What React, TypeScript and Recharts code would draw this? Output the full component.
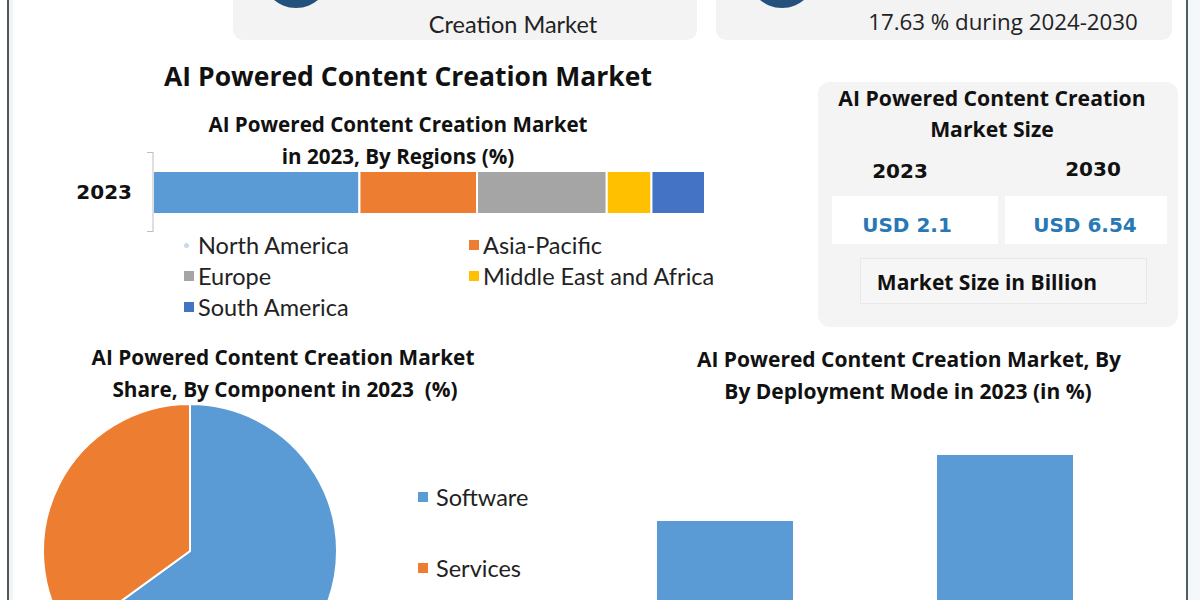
import React from "react";
import { BarChart, Bar, XAxis, YAxis, PieChart, Pie, Cell } from "recharts";

const regionKeys = ["North America", "Asia-Pacific", "Europe", "Middle East and Africa", "South America"];
const regionValues = [37.4, 21.3, 23.5, 8.1, 9.7];
const regionColors = ["#5B9BD5", "#ED7D31", "#A5A5A5", "#FFC000", "#4472C4"];
const regionYear = "2023";

const componentNames = ["Software", "Services"];
const componentValues = [65, 35];
const componentColors = ["#5B9BD5", "#ED7D31"];

const deploymentNames = ["On-Premise", "Cloud"];
const deploymentValues = [38, 62];

const sizeYears = ["2023", "2030"];
const sizeValues = ["USD 2.1", "USD 6.54"];

const regionRow: Record<string, any> = { year: regionYear };
regionKeys.forEach((k, i) => (regionRow[k] = regionValues[i]));
const regionData = [regionRow];
const componentData = componentNames.map((n, i) => ({ name: n, value: componentValues[i] }));
const deploymentData = deploymentNames.map((n, i) => ({ name: n, value: deploymentValues[i] }));

const LATO = "Lato, 'Open Sans', sans-serif";
const OPEN = "'Open Sans', 'Noto Sans', sans-serif";
const DEJA = "'DejaVu Sans', Verdana, sans-serif";

function T(props: {
  x: number; y: number; text: string; size: number; weight?: number; family?: string;
  color?: string; anchor?: "start" | "middle" | "end";
}) {
  const { x, y, text, size, weight = 400, family = LATO, color = "#111", anchor = "middle" } = props;
  const lh = Math.round(size * 1.3);
  const tx = anchor === "middle" ? "translateX(-50%)" : anchor === "end" ? "translateX(-100%)" : "none";
  return (
    <div
      style={{
        position: "absolute", left: x, top: y - lh / 2, lineHeight: lh + "px", fontSize: size,
        fontWeight: weight, fontFamily: family, color, whiteSpace: "pre", transform: tx,
      }}
    >
      {text}
    </div>
  );
}

function Box(props: { x: number; y: number; w: number; h: number; bg: string; r?: number; border?: string; shadow?: string }) {
  return (
    <div
      style={{
        position: "absolute", left: props.x, top: props.y, width: props.w, height: props.h,
        background: props.bg, borderRadius: props.r ?? 0, border: props.border,
        boxSizing: "border-box", boxShadow: props.shadow,
      }}
    />
  );
}

function Marker(props: { x: number; y: number; color: string; size?: number }) {
  const s = props.size ?? 10;
  return <div style={{ position: "absolute", left: props.x, top: props.y - s / 2, width: s, height: s, background: props.color }} />;
}

export default function App() {
  return (
    <div style={{ position: "absolute", left: 0, top: 0, width: 1200, height: 600, overflow: "hidden", background: "#fff" }}>
      {/* frame lines */}
      <div style={{ position: "absolute", left: 7, top: 0, width: 2, height: 600, background: "#555" }} />
      <div style={{ position: "absolute", left: 9, top: 0, width: 4, height: 600, background: "#EEF5F8" }} />
      <div style={{ position: "absolute", left: 1186, top: 0, width: 2, height: 600, background: "#4D5E66" }} />
      <div style={{ position: "absolute", left: 1188, top: 0, width: 12, height: 600, background: "#F4F8FA" }} />

      {/* top cards */}
      <Box x={233} y={-30} w={464} h={70} bg="#F3F3F3" r={10} />
      <Box x={716} y={-30} w={456} h={70} bg="#F3F3F3" r={10} />
      <div style={{ position: "absolute", left: 262, top: -60, width: 68, height: 68, borderRadius: "50%", background: "#23507C" }} />
      <div style={{ position: "absolute", left: 748, top: -60, width: 68, height: 68, borderRadius: "50%", background: "#23507C" }} />
      <T x={513} y={24} text="Creation Market" size={23.5} family={LATO} color="#222" />
      <T x={1003} y={21} text="17.63 % during 2024-2030" size={22.3} family={OPEN} color="#222" />

      {/* main title */}
      <T x={408} y={76} text="AI Powered Content Creation Market" size={26.5} weight={700} family={OPEN} />
      <T x={398} y={124} text="AI Powered Content Creation Market" size={20.6} weight={700} family={OPEN} />
      <T x={398} y={156} text="in 2023, By Regions (%)" size={20.6} weight={700} family={OPEN} />

      {/* stacked region bar */}
      <div style={{ position: "absolute", left: 147, top: 152, width: 6, height: 1, background: "#BFBFBF" }} />
      <div style={{ position: "absolute", left: 147, top: 231, width: 6, height: 1, background: "#BFBFBF" }} />
      <div style={{ position: "absolute", left: 0, top: 140 }}>
        <BarChart width={720} height={100} data={regionData} layout="vertical" margin={{ top: 12, right: 15, left: 0, bottom: 8 }} barCategoryGap={0}>
          <XAxis type="number" domain={[0, 100]} hide />
          <YAxis
            type="category" dataKey="year" width={153} axisLine={{ stroke: "#BFBFBF" }} tickLine={false}
            tickSize={6} tickMargin={15}
            tick={{ fontFamily: DEJA, fontWeight: 700, fontSize: 20, fill: "#111" }}
          />
          {regionKeys.map((k, i) => (
            <Bar key={k} dataKey={k} stackId="a" fill={regionColors[i]} stroke="#fff" strokeWidth={2} barSize={43} isAnimationActive={false} />
          ))}
        </BarChart>
      </div>

      {/* region legend */}
      <div style={{ position: "absolute", left: 184, top: 243, width: 5, height: 5, borderRadius: "50%", background: "#C9DAEE" }} />
      <T x={198} y={245} text={regionKeys[0]} size={23.5} anchor="start" color="#222" />
      <Marker x={469} y={245} color={regionColors[1]} />
      <T x={483} y={245} text={regionKeys[1]} size={23.5} anchor="start" color="#222" />
      <Marker x={184} y={276} color={regionColors[2]} />
      <T x={198} y={276} text={regionKeys[2]} size={23.5} anchor="start" color="#222" />
      <Marker x={469} y={276} color={regionColors[3]} />
      <T x={483} y={276} text={regionKeys[3]} size={23.5} anchor="start" color="#222" />
      <Marker x={184} y={307} color={regionColors[4]} />
      <T x={198} y={307} text={regionKeys[4]} size={23.5} anchor="start" color="#222" />

      {/* market size panel */}
      <Box x={818} y={82} w={360} h={245} bg="#F4F4F4" r={12} />
      <T x={992} y={98} text="AI Powered Content Creation" size={21.2} weight={700} family={OPEN} />
      <T x={992} y={129} text="Market Size" size={21.2} weight={700} family={OPEN} />
      <T x={900} y={171} text={sizeYears[0]} size={20} weight={700} family={DEJA} />
      <T x={1093} y={169} text={sizeYears[1]} size={20} weight={700} family={DEJA} />
      <Box x={832} y={196} w={166} h={48} bg="#FFFFFF" />
      <Box x={1005} y={196} w={162} h={48} bg="#FFFFFF" />
      <T x={907} y={225} text={sizeValues[0]} size={20} weight={700} family={DEJA} color="#2878B5" />
      <T x={1085} y={225} text={sizeValues[1]} size={20} weight={700} family={DEJA} color="#2878B5" />
      <Box x={860} y={258} w={287} h={46} bg="#F6F6F6" border="1px solid #E8E8E8" />
      <T x={987} y={282} text="Market Size in Billion" size={21} weight={700} family={OPEN} />

      {/* pie title */}
      <T x={283} y={357} text="AI Powered Content Creation Market" size={20.8} weight={700} family={OPEN} />
      <T x={285} y={389} text="Share, By Component in 2023  (%)" size={20.8} weight={700} family={OPEN} />

      <div style={{ position: "absolute", left: 0, top: 400 }}>
        <PieChart width={400} height={320} margin={{ top: 0, right: 0, bottom: 0, left: 0 }}>
          <Pie
            data={componentData} dataKey="value" nameKey="name" cx={190} cy={151} outerRadius={147}
            startAngle={90} endAngle={-270} stroke="#fff" strokeWidth={2} isAnimationActive={false}
          >
            {componentData.map((d, i) => (
              <Cell key={d.name} fill={componentColors[i]} />
            ))}
          </Pie>
        </PieChart>
      </div>

      <Marker x={418} y={497} color={componentColors[0]} />
      <T x={436} y={497} text={componentNames[0]} size={23.5} anchor="start" color="#222" />
      <Marker x={418} y={568} color={componentColors[1]} />
      <T x={436} y={568} text={componentNames[1]} size={23.5} anchor="start" color="#222" />

      {/* deployment title */}
      <T x={909} y={359} text="AI Powered Content Creation Market, By" size={21} weight={700} family={OPEN} />
      <T x={908} y={391} text="By Deployment Mode in 2023 (in %)" size={21} weight={700} family={OPEN} />

      <div style={{ position: "absolute", left: 585, top: 400 }}>
        <BarChart width={560} height={260} data={deploymentData} margin={{ top: 5.5, right: 0, left: 0, bottom: 34.5 }}>
          <XAxis dataKey="name" hide />
          <YAxis domain={[0, 80]} hide />
          <Bar dataKey="value" fill="#5B9BD5" barSize={136} isAnimationActive={false} />
        </BarChart>
      </div>
    </div>
  );
}
